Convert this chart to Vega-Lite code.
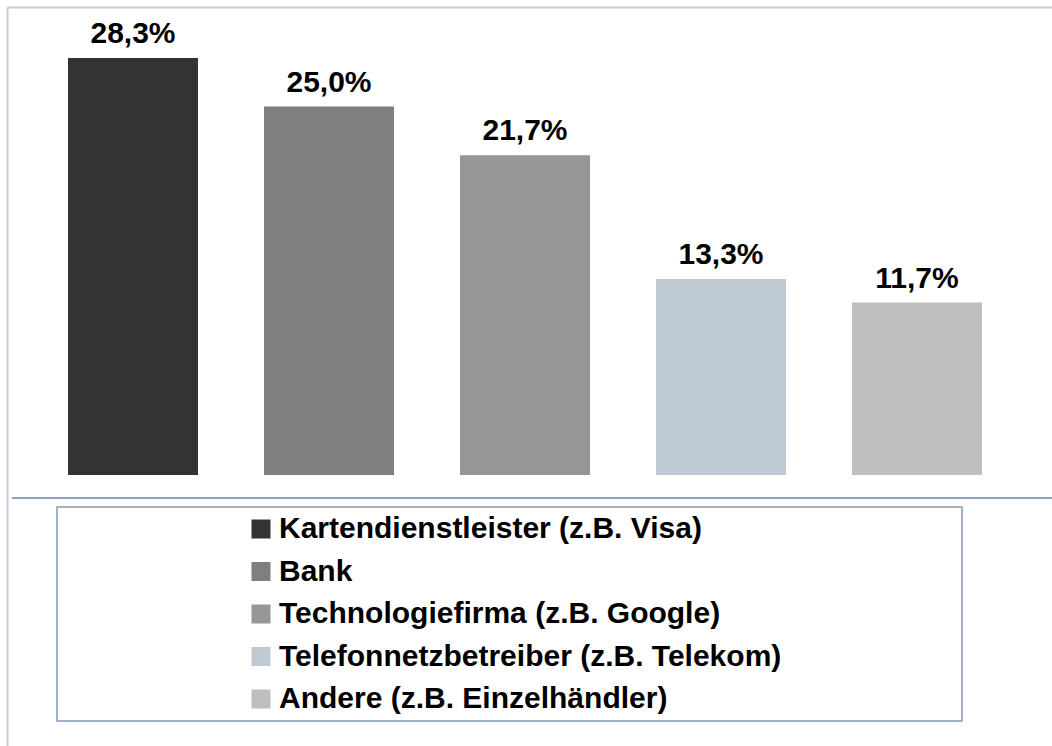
{
  "$schema": "https://vega.github.io/schema/vega-lite/v6.json",
  "width": 1045,
  "height": 739,
  "autosize": {"type": "none"},
  "padding": {"left": 7, "top": 7, "right": 0, "bottom": 0},
  "background": "#ffffff",
  "config": {
    "view": {"stroke": null},
    "font": "Liberation Sans",
    "locale": {"number": {"decimal": ",", "thousands": ".", "grouping": [3], "currency": ["", " €"]}}
  },
  "data": {
    "values": [
      {"anbieter": "Kartendienstleister (z.B. Visa)", "anteil": 0.283},
      {"anbieter": "Bank", "anteil": 0.25},
      {"anbieter": "Technologiefirma (z.B. Google)", "anteil": 0.217},
      {"anbieter": "Telefonnetzbetreiber (z.B. Telekom)", "anteil": 0.133},
      {"anbieter": "Andere (z.B. Einzelhändler)", "anteil": 0.117}
    ]
  },
  "encoding": {
    "x": {
      "field": "anbieter",
      "type": "nominal",
      "sort": null,
      "scale": {"paddingInner": 0.3367, "paddingOuter": 0.3342, "align": 0.4656},
      "axis": {"orient": "top", "title": null, "labels": false, "ticks": false, "grid": false, "domain": true, "domainColor": "#c6cfdb", "domainWidth": 2}
    }
  },
  "layer": [
    {
      "mark": {"type": "bar"},
      "encoding": {
        "y": {
          "field": "anteil",
          "type": "quantitative",
          "scale": {"domain": [-0.1839, 0.3176], "zero": false, "nice": false},
          "axis": {"title": null, "labels": false, "ticks": false, "grid": false, "domain": true, "domainColor": "#c6cfdb", "domainWidth": 2}
        },
        "color": {
          "field": "anbieter",
          "type": "nominal",
          "sort": null,
          "scale": {
            "domain": ["Kartendienstleister (z.B. Visa)", "Bank", "Technologiefirma (z.B. Google)", "Telefonnetzbetreiber (z.B. Telekom)", "Andere (z.B. Einzelhändler)"],
            "range": ["#333333", "#7f7f7f", "#969696", "#bec9d4", "#bfbfbf"]
          },
          "legend": {
            "orient": "none",
            "legendX": 50,
            "legendY": 500,
            "strokeColor": "#8497b8",
            "padding": 7,
            "symbolType": "square",
            "symbolSize": 361,
            "symbolStrokeWidth": 0,
            "symbolOffset": 182,
            "labelFont": "Liberation Sans",
            "labelFontSize": 30,
            "labelFontWeight": "bold",
            "labelColor": "#000000",
            "labelOffset": 3,
            "labelLimit": 2000,
            "rowPadding": 12.5,
            "title": "\u00a0",
            "titleOrient": "right",
            "titlePadding": 174,
            "titleFontSize": 1,
            "encode": {"legend": {"update": {"strokeWidth": {"value": 1.5}}}}
          }
        }
      }
    },
    {
      "mark": {"type": "text", "font": "Liberation Sans", "fontSize": 30, "fontWeight": "bold", "color": "#000000", "baseline": "alphabetic", "dy": -15},
      "encoding": {
        "y": {"field": "anteil", "type": "quantitative"},
        "text": {"field": "anteil", "type": "quantitative", "format": ".1%"}
      }
    },
    {
      "mark": {"type": "rule", "color": "#8ea2c0", "strokeWidth": 2},
      "encoding": {
        "x": {"value": 5},
        "x2": {"value": 1045},
        "y": {"datum": -0.01561}
      }
    }
  ]
}
